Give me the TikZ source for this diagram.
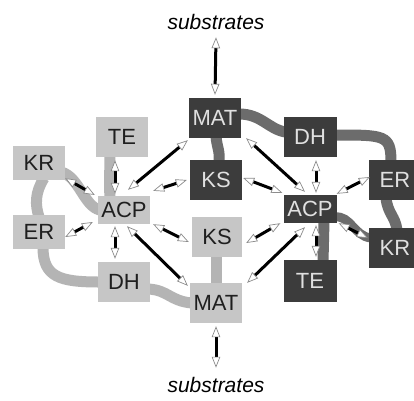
\documentclass[tikz,border=0pt]{standalone}
\usepackage{fontspec}
\setmainfont{Liberation Sans}
\usetikzlibrary{arrows.meta,calc,backgrounds}
\definecolor{boxlight}{HTML}{C6C6C6}
\definecolor{bandlight}{HTML}{B4B4B4}
\definecolor{boxdark}{HTML}{3C3C3C}
\definecolor{banddark}{HTML}{6C6C6C}
\definecolor{headline}{HTML}{8C8C8C}

\tikzset{
  dom/.style={minimum width=52pt, minimum height=40pt, inner sep=0pt,
    font=\fontsize{22}{26}\selectfont},
  lightdom/.style={dom, fill=boxlight, text=black!88},
  darkdom/.style={dom, fill=boxdark, text=white!88!black},
  flat/.style={minimum height=28pt},
  short/.style={minimum height=34pt},
  lband/.style={draw=bandlight, line width=11pt},
  dband/.style={draw=banddark, line width=11pt},
  tipw/.tip={Triangle[length=11pt, width=8.5pt, line width=0.7pt, color=headline, fill=white]},
  xarr/.style={draw=black, line width=3pt, arrows={tipw-tipw}},
  subs/.style={font=\fontsize{21}{24}\selectfont\itshape}
}

\begin{document}
\begin{tikzpicture}[x=1pt, y=-1pt]
\path[use as bounding box] (0,0) rectangle (414,400);

% substrate labels
\node[subs] (sTop) at (216,22) {substrates};
\node[subs] (sBot) at (216,385) {substrates};

% light module
\node[lightdom] (teL) at (122,137) {TE};
\node[lightdom, short] (krL) at (39,163) {KR};
\node[lightdom, flat] (aL) at (124,210) {ACP};
\node[lightdom, short] (erL) at (39,232) {ER};
\node[lightdom] (dhL) at (124,282) {DH};
\node[lightdom, minimum width=50pt] (ksL) at (217,237) {KS};
\node[lightdom] (matL) at (216,303) {MAT};

% dark module
\node[darkdom] (matD) at (215,118) {MAT};
\node[darkdom] (ksD) at (216,180) {KS};
\node[darkdom, minimum width=53pt] (dhD) at (310,137) {DH};
\node[darkdom, flat, minimum width=53pt] (acpD) at (310,209) {ACP};
\node[darkdom] (erD) at (395,180) {ER};
\node[darkdom] (krD) at (395,248) {KR};
\node[darkdom, minimum width=53pt, minimum height=42pt] (teD) at (310,281) {TE};

% linkers joining the domains of each chain
\begin{scope}[on background layer]
  \fill[white] (0,0) rectangle (414,400);
  % light chain
  \draw[lband] ($(ksL.south)+(-1,-2)$) -- ($(matL.north)+(0,2)$);
  \draw[lband] ($(matL.west)+(2,0)$) .. controls ($(matL.west)+(-20,-2)$) and ($(dhL.east)+(18,8)$) .. ($(dhL.east)+(-2,7)$);
  \draw[lband] ($(dhL.west)+(2,0)$) .. controls ($(dhL.west)+(-38,0)$) and ($(erL.south)+(4,28)$) .. ($(erL.south)+(4,-2)$);
  \draw[lband] ($(erL.north)+(0,2)$) .. controls ($(erL.north)+(-4,-10)$) and ($(krL.south)+(-4,12)$) .. ($(krL.south)+(5,-2)$);
  \draw[lband] ($(krL.east)+(-4,9)$) .. controls ($(krL.east)+(14,14)$) and ($(aL.west)+(-14,-4)$) .. ($(aL.west)+(2,0)$);
  \draw[lband] ($(aL.north)+(-14,2)$) .. controls ($(aL.north)+(-15,-14)$) and ($(teL.south)+(-12,12)$) .. ($(teL.south)+(-12,-2)$);
  % dark chain
  \draw[dband] ($(ksD.north)+(3,2)$) .. controls ($(ksD.north)+(4,-10)$) and ($(matD.south)+(2,10)$) .. ($(matD.south)+(1,-2)$);
  \draw[dband] ($(matD.east)+(-2,-4)$) .. controls ($(matD.east)+(20,-4)$) and ($(dhD.west)+(-15,-8)$) .. ($(dhD.west)+(2,-5)$);
  \draw[dband] ($(dhD.east)+(-2,-2)$) .. controls ($(dhD.east)+(48,-2)$) and ($(erD.north)+(-4,-25)$) .. ($(erD.north)+(-4,2)$);
  \draw[dband] ($(erD.south)+(-9,-2)$) .. controls ($(erD.south)+(-7,14)$) and ($(krD.north)+(0,-12)$) .. ($(krD.north)+(2,2)$);
  \draw[dband, line width=9pt] ($(krD.west)+(2,-10)$) .. controls ($(krD.west)+(-15,-12)$) and ($(acpD.east)+(14,6)$) .. ($(acpD.east)+(-2,8)$);
  \draw[dband] ($(acpD.south)+(14,-2)$) -- ($(teD.north)+(13,2)$);
\end{scope}

% substrate exchange
\draw[xarr] ($(sTop.south)+(0,4)$) -- ($(matD.north)+(0,-3)$);
\draw[xarr] ($(matL.south)+(0,3)$) -- ($(sBot.north)+(0,-6)$);

% light ACP to its partners
\draw[xarr] ($(aL.north)+(-9,-2)$) -- ($(teL.south)+(-7,3)$);
\draw[xarr] ($(aL.west)+(-3,-15)$) -- ($(krL.south east)+(0,-2)$);
\draw[xarr] ($(aL.west)+(-5,12)$) -- ($(erL.east)+(0,5)$);
\draw[xarr] ($(aL.south)+(-9,2)$) -- ($(dhL.north)+(-9,-3)$);
\draw[xarr] ($(aL.north east)+(3,-5)$) -- ($(ksD.west)+(-3,0)$);
\draw[xarr] ($(aL.north)+(4,-6)$) -- ($(matD.south west)+(-1,2)$);
\draw[xarr] ($(aL.south east)+(3,0)$) -- ($(ksL.west)+(-3,5)$);
\draw[xarr] ($(aL.south)+(3,2)$) -- ($(matL.north west)+(-2,3)$);

% dark ACP to its partners
\draw[xarr] ($(acpD.north)+(6,-2)$) -- ($(dhD.south)+(6,3)$);
\draw[xarr] ($(acpD.north east)+(0,-1)$) -- ($(erD.west)+(1,-3)$);
\draw[xarr] ($(acpD.south east)+(2,0)$) -- ($(krD.west)+(-1,-10)$);
\draw[xarr] ($(acpD.south)+(6,2)$) -- ($(teD.north)+(6,-3)$);
\draw[xarr] ($(acpD.north west)+(-1,-2)$) -- ($(ksD.east)+(1,-2)$);
\draw[xarr] ($(acpD.north)+(-5,-3)$) -- ($(matD.south east)+(5,0)$);
\draw[xarr] ($(acpD.south west)+(-3,0)$) -- ($(ksL.east)+(4,6)$);
\draw[xarr] ($(acpD.south)+(-5,4)$) -- ($(matL.north east)+(5,0)$);
\end{tikzpicture}
\end{document}
